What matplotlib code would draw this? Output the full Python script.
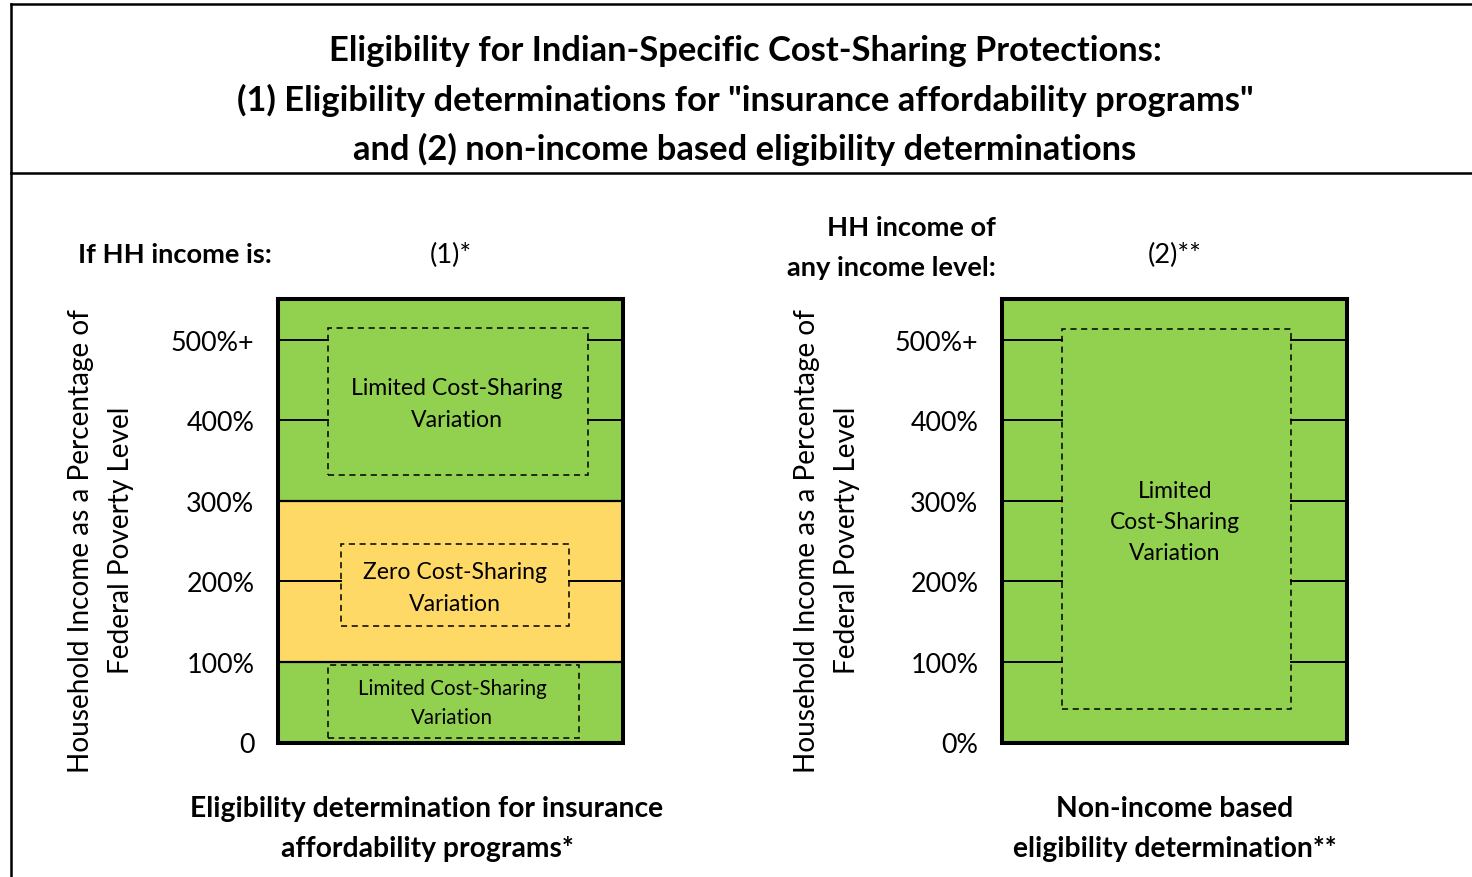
import matplotlib
matplotlib.use("Agg")
import matplotlib.pyplot as plt
from matplotlib.patches import Rectangle
from matplotlib.lines import Line2D

# data
levels = [0, 100, 200, 300, 400, 500]
left_ticklabels = ["0", "100%", "200%", "300%", "400%", "500%+"]
right_ticklabels = ["0%", "100%", "200%", "300%", "400%", "500%+"]
band_edges = [0, 100, 300, 551]
band_colors = ["#92D050", "#FFD966", "#92D050"]
top_value = 551

title_lines = ['Eligibility for Indian-Specific Cost-Sharing Protections:',
               '(1) Eligibility determinations for "insurance affordability programs"',
               'and (2) non-income based eligibility determinations']

W, H = 1472, 878
fig = plt.figure(figsize=(W / 100, H / 100), dpi=100)
FONT = "Lato"
plt.rcParams['font.family'] = [FONT, 'DejaVu Sans']


def fx(px):
    return px / W


def fy(py):
    return 1 - py / H


# frame lines
for x0, y0, x1, y1 in [(11, 5, 11, 878), (11, 5, W, 5), (11, 174, W, 174)]:
    fig.add_artist(Line2D([fx(x0), fx(x1)], [fy(y0), fy(y1)], color="black",
                          lw=1.8, transform=fig.transFigure))

for i, line in enumerate(title_lines):
    fig.text(fx(745), fy(51 + 49 * i), line, ha="center", va="center",
             fontsize=24.8, fontweight="bold")

fig.text(fx(78), fy(255), "If HH income is:", ha="left", va="center",
         fontsize=19.6, fontweight="bold")
fig.text(fx(451), fy(255), "(1)*", ha="center", va="center", fontsize=19.6)
fig.text(fx(996), fy(248), "HH income of\nany income level:", ha="right",
         va="center", fontsize=19.6, fontweight="bold", linespacing=1.77)
fig.text(fx(1175), fy(255), "(2)**", ha="center", va="center", fontsize=19.6)

for xc in (81, 807):
    fig.text(fx(xc), fy(541), "Household Income as a Percentage of",
             rotation=90, ha="center", va="center", fontsize=20.2)
    fig.text(fx(xc + 40), fy(540), "Federal Poverty Level",
             rotation=90, ha="center", va="center", fontsize=20.2)

fig.text(fx(427), fy(829), "Eligibility determination for insurance\naffordability programs*",
         ha="center", va="center", fontsize=20.3, fontweight="bold", linespacing=1.67)
fig.text(fx(1175), fy(829), "Non-income based\neligibility determination**",
         ha="center", va="center", fontsize=20.3, fontweight="bold", linespacing=1.67)


def make_axes(left_px, ticklabels):
    ax = fig.add_axes([fx(left_px), fy(744), fx(345), 444 / H])
    ax.set_xlim(0, 1)
    ax.set_ylim(-1, top_value)
    ax.set_xticks([])
    ax.set_yticks(levels)
    ax.set_yticklabels(ticklabels, fontsize=19.4)
    ax.tick_params(axis="y", length=0, pad=17)
    for s in ax.spines.values():
        s.set_linewidth(2.9)
        s.set_zorder(10)
    return ax


def dashed_box(ax, x0, x1, y0, y1):
    ax.add_patch(Rectangle((x0, y0), x1 - x0, y1 - y0, fill=False,
                           ls=(0, (4, 3)), lw=1.1, ec="black", zorder=5))


def stubs(ax, ys, x0, x1):
    for y in ys:
        ax.plot([0, x0], [y, y], color="black", lw=1.4, zorder=4)
        ax.plot([x1, 1], [y, y], color="black", lw=1.4, zorder=4)


# left panel
ax1 = make_axes(278, left_ticklabels)
for (b0, b1), c in zip(zip(band_edges[:-1], band_edges[1:]), band_colors):
    ax1.axhspan(b0, b1, color=c, lw=0, zorder=1)
for b in band_edges[1:-1]:
    ax1.axhline(b, color="black", lw=1.6, zorder=4)
dashed_box(ax1, 0.145, 0.899, 332, 515)
dashed_box(ax1, 0.183, 0.843, 145, 247)
dashed_box(ax1, 0.145, 0.872, 5, 96)
stubs(ax1, [400, 500], 0.145, 0.899)
stubs(ax1, [200], 0.183, 0.843)
ax1.text(0.519, 421, "Limited Cost-Sharing\nVariation", ha="center", va="center",
         fontsize=16.6, linespacing=1.65, zorder=6)
ax1.text(0.513, 192, "Zero Cost-Sharing\nVariation", ha="center", va="center",
         fontsize=16.6, linespacing=1.65, zorder=6)
ax1.text(0.504, 49, "Limited Cost-Sharing\nVariation", ha="center", va="center",
         fontsize=14.8, linespacing=1.55, zorder=6)

# right panel
ax2 = make_axes(1002, right_ticklabels)
ax2.axhspan(-1, top_value, color=band_colors[0], lw=0, zorder=1)
dashed_box(ax2, 0.174, 0.838, 41, 514)
stubs(ax2, levels[1:], 0.174, 0.838)
ax2.text(0.501, 274, "Limited\nCost-Sharing\nVariation", ha="center", va="center",
         fontsize=16.5, linespacing=1.58, zorder=6)

fig.savefig("out.png", dpi=100)
